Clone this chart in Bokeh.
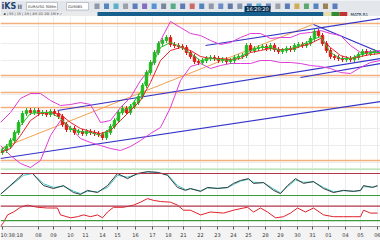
import numpy as np
from bokeh.plotting import figure
from bokeh.layouts import column
from bokeh.models import Range1d, FixedTicker, ColumnDataSource, Span
from bokeh.embed import file_html
from bokeh.resources import INLINE
from bokeh.core.properties import value

FONT = "DejaVu Sans"

# ---------------- data ----------------
closes = [20, 24, 30, 38, 48, 57, 60, 58, 60, 57,
          58, 56, 59, 57, 54, 46, 41, 42, 38, 39,
          37, 39, 38, 37, 36, 33, 38, 44, 50, 58,
          62, 58, 64, 68, 74, 85, 98, 108, 118, 127,
          130, 133, 126, 125, 124, 123, 118, 114, 109, 108,
          110, 112, 113, 112, 110, 111, 109, 110, 113, 114,
          115, 125, 120, 122, 123, 124, 122, 125, 121, 119,
          120, 122, 121, 125, 126, 125, 127, 132, 139, 135,
          127, 120, 114, 113, 112, 111, 112, 111, 113, 116,
          119, 117, 118, 119]
first_open = 18

band_t = list(range(0, 381, 10))
upper_band = [48, 58, 72, 77, 77, 70, 65, 66, 68, 66,
              48, 50, 63, 73, 90, 102, 130, 149, 143, 137,
              135, 130, 126, 128, 133, 137, 137, 132, 133, 133,
              137, 138, 140, 137, 135, 125, 118, 119, 120]
lower_band = [25, 15, 7, 3, 10, 35, 50, 43, 32, 28,
              25, 22, 20, 24, 30, 37, 43, 63, 90, 104,
              107, 102, 105, 107, 107, 107, 110, 110, 108, 108,
              107, 105, 104, 102, 98, 97, 103, 108, 110]
ma_red = [18, 22, 35, 50, 57, 58, 56, 48, 42, 39,
          37, 40, 50, 60, 70, 88, 110, 120, 123, 120,
          114, 112, 112, 111, 112, 118, 120, 122, 121, 121,
          124, 127, 132, 123, 115, 112, 114, 116, 117]
ma_green = [20, 28, 45, 57, 58, 58, 52, 42, 39, 38,
            35, 42, 58, 64, 78, 102, 123, 128, 124, 117,
            110, 112, 111, 110, 114, 120, 123, 123, 120, 122,
            125, 130, 134, 118, 112, 112, 116, 118, 118]

levels = [147, 95, 78, 63, 10]
trend_x0 = [0, 57, 205, 313, 300]
trend_y0 = [12, 60, 125, 146, 93]
trend_x1 = [380, 380, 380, 380, 380]
trend_y1 = [69, 112, 152, 118, 107]
fan_x0, fan_y0, fan_x1, fan_y1 = [0], [22], [312], [146]

stoch_t = [0, 23, 32, 43, 53, 63, 73, 80, 87, 97,
           107, 117, 127, 137, 147, 157, 167, 177, 185, 190,
           200, 207, 217, 227, 233, 240, 248, 253, 263, 273,
           280, 287, 295, 303, 313, 323, 333, 343, 353, 360,
           363, 372, 377]
stoch_k = [23, 80, 80, 47, 39, 47, 28, 23, 34, 28,
           47, 80, 66, 80, 85, 83, 75, 42, 34, 39,
           31, 42, 39, 42, 53, 61, 66, 53, 55, 34,
           25, 47, 66, 53, 58, 39, 28, 34, 31, 34,
           47, 42, 47]
stoch_d = [24, 75, 80, 52, 42, 45, 32, 25, 31, 30,
           42, 75, 70, 78, 84, 83, 77, 47, 36, 38,
           33, 40, 40, 41, 50, 59, 64, 56, 55, 38,
           27, 44, 62, 56, 57, 42, 30, 33, 32, 33,
           44, 43, 45]

rsi_t = [0, 3, 7, 13, 20, 27, 37, 47, 57, 60,
         70, 77, 83, 90, 97, 102, 107, 113, 123, 133,
         140, 147, 153, 160, 170, 177, 183, 190, 200, 210,
         223, 233, 243, 247, 253, 260, 267, 275, 283, 290,
         297, 305, 313, 323, 333, 343, 353, 360, 363, 370,
         377]
rsi_v = [14, 25, 46, 54, 67, 73, 67, 65, 65, 46,
         38, 41, 46, 41, 46, 38, 54, 67, 67, 73,
         81, 91, 86, 83, 81, 73, 59, 59, 46, 54,
         51, 59, 65, 67, 54, 65, 54, 38, 41, 51,
         65, 54, 65, 46, 41, 41, 41, 41, 59, 51,
         51]

tick_t = [38, 53, 70, 85, 102, 117, 135, 152, 168, 183, 200,
          217, 233, 248, 265, 280, 297, 312, 328, 345, 360, 377]
tick_labels = ["08", "09", "10", "11", "14", "15", "16", "17", "18", "21", "22",
               "23", "24", "25", "28", "29", "30", "31", "01", "04", "05", "06"]
cursor_t = 2
cursor_time = "10:38:18"

# ---------------- derived candle table ----------------
opens = [first_open] + closes[:-1]
candle_t = [2 + 4 * i for i in range(len(closes))]
tops = [max(o, c) for o, c in zip(opens, closes)]
bots = [min(o, c) for o, c in zip(opens, closes)]
cols = ["#1fb81f" if c >= o else "#e01818" for o, c in zip(opens, closes)]
csrc = ColumnDataSource(dict(t=candle_t, top=tops, bot=bots,
                             hi=[t + 2.5 for t in tops], lo=[b - 2.5 for b in bots],
                             col=cols))

xr = Range1d(0, 380)
common = dict(output_backend="svg", toolbar_location=None, min_border=0)

# ---------------- header ----------------
hdr = figure(width=380, height=16, x_range=Range1d(0, 380), y_range=Range1d(16, 0), **common)
hdr.axis.visible = False
hdr.grid.visible = False
hdr.outline_line_color = None
hdr.background_fill_color = "#e3e6eb"
hdr.border_fill_color = "#e3e6eb"
hdr.quad(left=[0, 97, 323, 331, 339, 347], right=[97, 323, 331, 339, 347, 380],
         top=[11.5] * 6, bottom=[16] * 6,
         fill_color=["#e9eaec", "#17608e", "#e8dfae", "#2e8d2e", "#c23434", "#e6eaef"],
         line_color=None)
hdr.quad(left=[26, 66], right=[57, 88], top=[2, 2], bottom=[9.5, 9.5],
         fill_color="white", line_color="#9aa4b0", line_width=0.6)
icon_cols = ["#7a8698", "#2f6db4", "#3aa3c4", "#8a8f96", "#3b64b0", "#6b4fb5", "#2f7fd0",
             "#5d6f88", "#2f9f6a", "#3a60a8", "#c84a4a", "#2f6db4", "#7a8698", "#4a78c0",
             "#3d5f9a", "#6a7fa0", "#2f6db4", "#3aa3c4", "#4f6fb0", "#8a8f96", "#3a60a8",
             "#c9a030", "#3a9a50", "#2f6db4", "#8a6a30", "#3b64b0"]
ix = np.linspace(94, 332, len(icon_cols))
hdr.quad(left=ix, right=ix + 5, top=[3] * len(ix), bottom=[8.5] * len(ix),
         fill_color=icon_cols, line_color=None, fill_alpha=0.8)
hdr.quad(left=[244], right=[270], top=[5.5], bottom=[11.5], fill_color="#0f3556", line_color=None)
hdr.text(x=[1], y=[6], text=["iKS"], text_font=value(FONT), text_font_size="8px",
         text_font_style="bold", text_color="#22426e", text_baseline="middle")
hdr.text(x=[17], y=[6], text=["II"], text_font=value(FONT), text_font_size="6px",
         text_font_style="bold", text_color="#4a5a70", text_baseline="middle")
hdr.text(x=[27.5, 67.5], y=[6, 6], text=["EUR/USD 30Min", "GA9065"], text_font=value(FONT),
         text_font_size="3.6px", text_color="#333333", text_baseline="middle")
hdr.text(x=[257], y=[8.6], text=["16:20:20"], text_font=value(FONT), text_font_size="5px",
         text_color="white", text_align="center", text_baseline="middle")
hdr.text(x=[3], y=[13.8], text=["\u25aa  |  5S  |  15  |  1H  |  4H  1D  1W  1M \u25be \u2713"],
         text_font=value(FONT), text_font_size="3.4px", text_color="#444444", text_baseline="middle")
hdr.text(x=[350], y=[13.8], text=["MATR.R1"], text_font=value(FONT), text_font_size="4px",
         text_color="#223344", text_baseline="middle")

# ---------------- main price panel ----------------
main = figure(width=380, height=152, x_range=xr, y_range=Range1d(2, 154), **common)
main.axis.visible = False
main.xgrid.ticker = FixedTicker(ticks=tick_t)
main.ygrid.ticker = FixedTicker(ticks=[8, 25, 42, 59, 76, 93, 110, 127, 144])
main.grid.grid_line_color = "#ececec"
main.outline_line_color = None
for lv in levels:
    main.add_layout(Span(location=lv, dimension="width", line_color="#f3b07c",
                         line_width=1.6, level="underlay"))
main.segment(x0=fan_x0, y0=fan_y0, x1=fan_x1, y1=fan_y1, line_color="#f0a050", line_width=1)
main.segment(x0=trend_x0, y0=trend_y0, x1=trend_x1, y1=trend_y1, line_color="#3434c8", line_width=1.1)
main.line(band_t, upper_band, line_color="#e03cd8", line_width=1)
main.line(band_t, lower_band, line_color="#e03cd8", line_width=1)
main.segment(x0="t", y0="lo", x1="t", y1="hi", source=csrc, line_color="col", line_width=1)
main.vbar(x="t", width=2.4, top="top", bottom="bot", source=csrc, fill_color="col", line_color="col")
main.line(band_t, ma_red, line_color="#e8202a", line_width=1)
main.line(band_t, ma_green, line_color="#2cc02c", line_width=1)

# ---------------- stochastic panel ----------------
osc1 = figure(width=380, height=29, x_range=xr, y_range=Range1d(14.5, 93.6), **common)
osc1.axis.visible = False
osc1.xgrid.ticker = FixedTicker(ticks=tick_t)
osc1.ygrid.visible = False
osc1.grid.grid_line_color = "#ececec"
osc1.outline_line_color = None
osc1.add_layout(Span(location=93, dimension="width", line_color="#a8dca8", line_width=2))
osc1.add_layout(Span(location=80, dimension="width", line_color="#b03448", line_width=1.2))
osc1.add_layout(Span(location=20, dimension="width", line_color="#3c9a3c", line_width=1.2))
osc1.line(stoch_t, stoch_d, line_color="#3fc4c4", line_width=1)
osc1.line(stoch_t, stoch_k, line_color="#3a3a3a", line_width=1)

# ---------------- RSI panel + time axis ----------------
osc2 = figure(width=380, height=43, x_range=xr, y_range=Range1d(14, 94), **common)
osc2.min_border_bottom = 13
osc2.yaxis.visible = False
osc2.ygrid.visible = False
osc2.xgrid.ticker = FixedTicker(ticks=tick_t)
osc2.grid.grid_line_color = "#ececec"
osc2.outline_line_color = None
osc2.border_fill_color = "#f3f3f3"
ax = osc2.xaxis[0]
ax.ticker = FixedTicker(ticks=[cursor_t] + tick_t)
overrides = {t: l for t, l in zip(tick_t, tick_labels)}
overrides[cursor_t] = cursor_time
ax.major_label_overrides = overrides
ax.major_label_text_font = FONT
ax.major_label_text_font_size = "5px"
ax.major_label_text_color = "#333333"
ax.major_label_text_align = "left"
ax.major_label_standoff = 2
ax.major_tick_out = 3
ax.major_tick_in = 0
ax.minor_tick_line_color = None
ax.axis_line_color = "#999999"
ax.major_tick_line_color = "#555555"
osc2.add_layout(Span(location=70, dimension="width", line_color="#b03448", line_width=1.2))
osc2.add_layout(Span(location=30, dimension="width", line_color="#3c9a3c", line_width=1.2))
osc2.line(rsi_t, rsi_v, line_color="#e0202a", line_width=1)

layout = column(hdr, main, osc1, osc2, spacing=0)
open("out.html", "w").write(file_html(layout, INLINE))
